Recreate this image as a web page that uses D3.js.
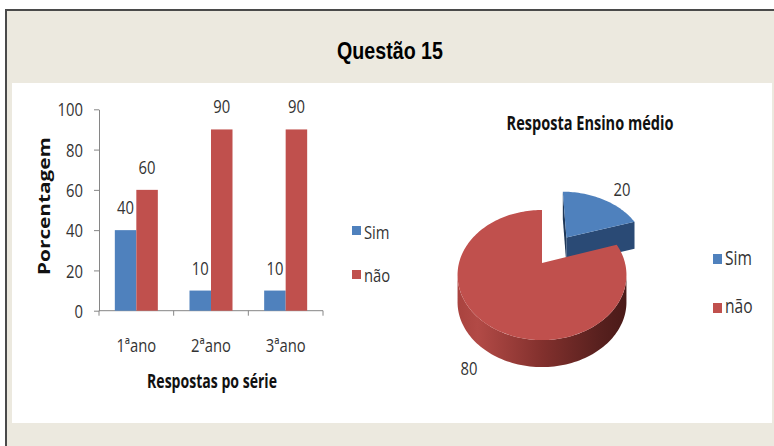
<!DOCTYPE html>
<html lang="pt">
<head>
  <meta charset="UTF-8">
  <title>Questão 15</title>
  <script src="https://d3js.org/d3.v7.min.js"></script>
  <style>
    body { margin: 0; background: #fff; }
    svg { display: block; }
    text { font-family: "Open Sans", sans-serif; fill: #222; }
    .tick text { font-size: 19px; fill: #333; }
    .lbl { font-size: 19px; fill: #333; }
    .bold { font-weight: bold; fill: #111; }
    .title { font-family: "Liberation Sans", Arial, sans-serif; font-size: 23px; fill: #000; }
    .axtitle { font-size: 16px; }
    .leg2 { font-size: 20px; }
  </style>
</head>
<body>
  <svg width="774" height="446"></svg>

  <script>
    // dados do grafico
    const categories = ["1ªano", "2ªano", "3ªano"];
    const series = ["Sim", "não"];
    const simValues = [40, 10, 10];
    const naoValues = [60, 90, 90];
    const yTicks = [0, 20, 40, 60, 80, 100];
    const pieLabels = ["Sim", "não"];
    const pieValues = [20, 80];
    const colors = ["#4F81BD", "#C0504D"];

    const width = 774, height = 446;
    const K = 0.78; // imagem original esta comprimida na horizontal

    const svg = d3.select("svg");

    // texto comprimido, com largura opcional ajustada
    function label(parent, x, y, str, cls, anchor, fitW, rot) {
      const g = parent.append("g");
      const t = g.append("text").attr("class", cls).attr("text-anchor", anchor || "middle").text(str);
      let k = K;
      if (fitW) k = fitW / t.node().getComputedTextLength();
      if (rot) g.attr("transform", `translate(${x},${y}) rotate(${rot}) scale(${k},1)`);
      else g.attr("transform", `translate(${x},${y}) scale(${k},1)`);
      return t;
    }

    // fundo e moldura
    svg.append("rect").attr("x", 6).attr("y", 10).attr("width", width - 6).attr("height", height - 10).attr("fill", "#ECE9DF");
    svg.append("line").attr("x1", 6).attr("y1", 9).attr("x2", 6).attr("y2", height).attr("stroke", "#4a4a4a").attr("stroke-width", 2);
    svg.append("line").attr("x1", 5).attr("y1", 10).attr("x2", width).attr("y2", 10).attr("stroke", "#4a4a4a").attr("stroke-width", 2);
    svg.append("rect").attr("x", 12).attr("y", 83).attr("width", 760).attr("height", 340).attr("fill", "#fff");

    label(svg, 390, 58.5, "Questão 15", "title bold", "middle", 106);

    // ---------- grafico de barras ----------
    const x = d3.scaleBand().domain(categories).range([99, 323]).paddingInner(0.424).paddingOuter(0.212);
    const xs = d3.scaleBand().domain(series).range([0, x.bandwidth()]);
    const y = d3.scaleLinear().domain([0, 100]).range([310.7, 109.3]);

    const yAxis = svg.append("g").attr("transform", "translate(99,0)")
      .call(d3.axisLeft(y).tickValues(yTicks).tickSize(5).tickSizeOuter(0));
    yAxis.selectAll("path, line").attr("stroke", "#868686");
    yAxis.selectAll("text").attr("x", -16 / K).attr("dy", "0.35em").attr("transform", `scale(${K},1)`);

    svg.append("line").attr("x1", x.range()[0]).attr("x2", x.range()[1])
      .attr("y1", y(0)).attr("y2", y(0)).attr("stroke", "#868686");
    const gap = (x.step() - x.bandwidth()) / 2;
    const bounds = categories.map(c => x(c) - gap).concat([x.range()[1]]);
    svg.selectAll(".xtick").data(bounds).enter().append("line")
      .attr("x1", d => d).attr("x2", d => d).attr("y1", y(0)).attr("y2", y(0) + 5)
      .attr("stroke", "#868686");
    categories.forEach(c => label(svg, x(c) + x.bandwidth() / 2, y(0) + 41, c, "lbl"));

    const rows = series.map((s, i) => categories.map((c, j) => ({
      cat: c, ser: s, i: i, v: i === 0 ? simValues[j] : naoValues[j]
    })));
    rows.forEach(r => {
      svg.selectAll(null).data(r).enter().append("rect")
        .attr("x", d => x(d.cat) + xs(d.ser))
        .attr("y", d => y(d.v))
        .attr("width", xs.bandwidth())
        .attr("height", d => y(0) - y(d.v))
        .attr("fill", d => colors[d.i]);
      r.forEach(d => label(svg, x(d.cat) + xs(d.ser) + xs.bandwidth() / 2, y(d.v) - 16, d.v, "lbl"));
    });

    label(svg, 212, 388, "Respostas po série", "lbl bold", "middle", 130);
    label(svg, 50, 206, "Porcentagem", "lbl bold axtitle", "middle", 138, -90);

    series.forEach((s, i) => {
      svg.append("rect").attr("x", 352).attr("y", 226 + i * 44).attr("width", 9).attr("height", 9).attr("fill", colors[i]);
      label(svg, 364, 238.5 + i * 43, s, "lbl", "start");
    });

    // ---------- pizza 3D ----------
    label(svg, 590, 130, "Resposta Ensino médio", "lbl bold", "middle", 167);

    const cx = 542, cy = 263, rx = 83, ry = 62.8, persp = 0.185, depth = 27, explode = 0.54;
    function proj(X, Z, dy) {
      const s = 1 / (1 - persp * Z);
      return [cx + rx * X * s, cy + ry * Z * s + (dy || 0)];
    }
    const arcs = d3.pie().sort(null)(pieValues);

    function rim(a, off) { return [Math.sin(a) + off[0], -Math.cos(a) + off[1]]; }
    function arcPts(a0, a1, off, dy) {
      const n = Math.max(2, Math.ceil((a1 - a0) / 0.03));
      return d3.range(n + 1).map(i => {
        const p = rim(a0 + (a1 - a0) * i / n, off);
        return proj(p[0], p[1], dy);
      });
    }
    const line = d3.line();

    const defs = svg.append("defs");
    const grad = defs.append("linearGradient").attr("id", "side").attr("x1", 0).attr("x2", 1).attr("y1", 0).attr("y2", 0);
    [[0, "#a9433f"], [0.12, "#b24a46"], [0.5, "#82302d"], [0.85, "#57201e"], [1, "#4a1a18"]].forEach(s =>
      grad.append("stop").attr("offset", s[0]).attr("stop-color", s[1]));

    const shades = ["#2a4a75", "#1f3858"];
    const pieG = svg.append("g");
    const offs = arcs.map(a => {
      if (a.index !== 0) return [0, 0];
      const m = (a.startAngle + a.endAngle) / 2;
      return [explode * Math.sin(m), -explode * Math.cos(m)];
    });

    // fatia Sim (atras) e depois fatia não (frente)
    [0, 1].forEach(k => {
      const a = arcs[k], off = offs[k];
      const apex = proj(off[0], off[1], 0), apexB = proj(off[0], off[1], depth);
      const r0 = rim(a.startAngle, off), r1 = rim(a.endAngle, off);
      const p0 = proj(r0[0], r0[1], 0), p0b = proj(r0[0], r0[1], depth);
      const p1 = proj(r1[0], r1[1], 0), p1b = proj(r1[0], r1[1], depth);
      if (k === 0) {
        pieG.append("path").attr("d", line([apex, p0, p0b, apexB]) + "Z").attr("fill", shades[1]);
        pieG.append("path").attr("d", line([apex, p1, p1b, apexB]) + "Z").attr("fill", shades[0]);
      } else {
        const f0 = Math.max(a.startAngle, Math.PI / 2 + 0.17), f1 = Math.min(a.endAngle, 3 * Math.PI / 2 - 0.17);
        const top = arcPts(f0, f1, off, 0), bot = arcPts(f0, f1, off, depth).reverse();
        pieG.append("path").attr("d", line(top.concat(bot)) + "Z").attr("fill", "url(#side)");
      }
      pieG.append("path").attr("d", line([apex].concat(arcPts(a.startAngle, a.endAngle, off, 0))) + "Z")
        .attr("fill", colors[k]);
    });

    label(svg, 622, 196, pieValues[0], "lbl");
    label(svg, 469, 375, pieValues[1], "lbl");

    pieLabels.forEach((s, i) => {
      svg.append("rect").attr("x", 713).attr("y", 254 + i * 49).attr("width", 9).attr("height", 10).attr("fill", colors[i]);
      label(svg, 725, 265 + i * 48, s, "lbl leg2", "start");
    });
  </script>
</body>
</html>
